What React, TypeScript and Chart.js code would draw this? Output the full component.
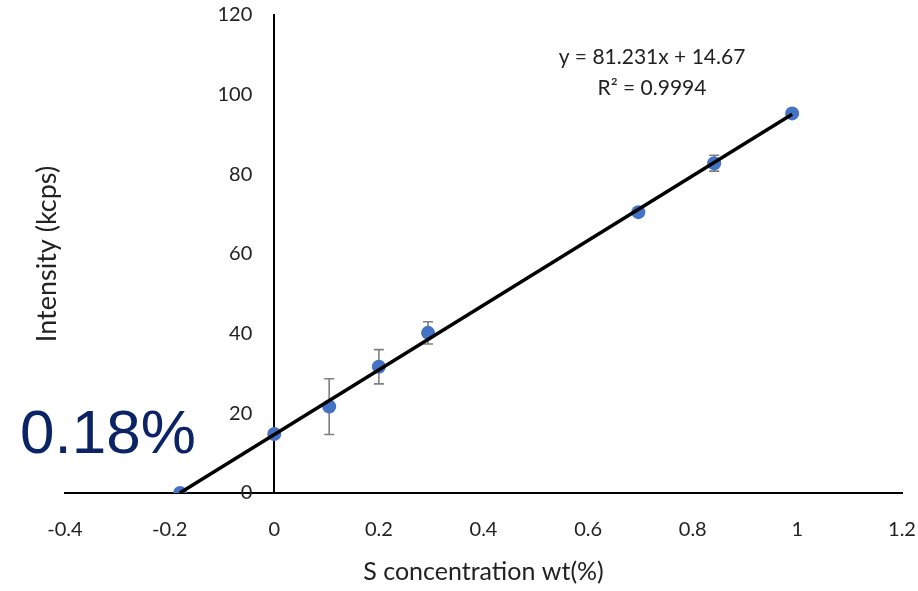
import React, { useEffect, useRef } from "react";
import { Chart, registerables } from "chart.js";

Chart.register(...registerables);

// Calibration standards: S concentration (wt %) vs measured intensity (kcps)
const concentration = [-0.18, 0, 0.105, 0.2, 0.294, 0.696, 0.841, 0.99];
const intensity = [0, 14.8, 21.7, 31.7, 40.2, 70.5, 82.8, 95.3];
const intensityError = [0, 0, 7, 4.3, 2.8, 1.0, 2.0, 0];

// Linear fit reported on the chart
const fitSlope = 81.231;
const fitIntercept = 14.67;
const fitRange = [-0.1806, 0.99];
const equationLines = ["y = 81.231x + 14.67", "R\u00b2 = 0.9994"];
const detectionLabel = "0.18%";

const xAxisTitle = "S concentration wt(%)";
const yAxisTitle = "Intensity (kcps)";
const xMin = -0.4;
const xMax = 1.2;
const xStep = 0.2;
const yMin = 0;
const yMax = 120;
const yStep = 20;

const FONT = "Lato, 'Open Sans', sans-serif";
const TEXT = "#222222";

const errorBarPlugin = {
  id: "errorBars",
  beforeDatasetsDraw(chart: any) {
    const { ctx, scales } = chart;
    const xs = scales.x;
    const ys = scales.y;
    ctx.save();
    ctx.strokeStyle = "#7f7f7f";
    ctx.lineWidth = 1.6;
    concentration.forEach((c, i) => {
      const e = intensityError[i];
      if (!e) return;
      const px = xs.getPixelForValue(c);
      const top = ys.getPixelForValue(intensity[i] + e);
      const bot = ys.getPixelForValue(intensity[i] - e);
      ctx.beginPath();
      ctx.moveTo(px, top);
      ctx.lineTo(px, bot);
      ctx.moveTo(px - 5, top);
      ctx.lineTo(px + 5, top);
      ctx.moveTo(px - 5, bot);
      ctx.lineTo(px + 5, bot);
      ctx.stroke();
    });
    ctx.restore();
  },
};

const labelPlugin = {
  id: "chartLabels",
  afterDraw(chart: any) {
    const { ctx, chartArea, scales } = chart;
    const xs = scales.x;
    const ys = scales.y;

    // y tick labels, set just left of the axis that crosses at x = 0
    ctx.save();
    ctx.fillStyle = TEXT;
    ctx.font = `20px ${FONT}`;
    ctx.textAlign = "right";
    ctx.textBaseline = "middle";
    const axisX = xs.getPixelForValue(0);
    ys.ticks.forEach((t: any) => {
      ctx.fillText(String(t.value), axisX - 22, ys.getPixelForValue(t.value));
    });
    ctx.restore();

    // y axis title, rotated, at the far left
    ctx.save();
    ctx.fillStyle = TEXT;
    ctx.font = `27px ${FONT}`;
    ctx.textAlign = "center";
    ctx.textBaseline = "middle";
    ctx.translate(47, (chartArea.top + chartArea.bottom) / 2);
    ctx.rotate(-Math.PI / 2);
    ctx.fillText(yAxisTitle, 0, 0);
    ctx.restore();

    // regression equation
    ctx.save();
    ctx.fillStyle = TEXT;
    ctx.font = `21px ${FONT}`;
    ctx.textAlign = "center";
    ctx.textBaseline = "middle";
    ctx.fillText(equationLines[0], 652, 57);
    ctx.fillText(equationLines[1], 652, 88);
    ctx.restore();

    // x-intercept value
    ctx.save();
    ctx.fillStyle = "#0b2466";
    ctx.font = "62px 'Liberation Sans', Arial, sans-serif";
    ctx.textAlign = "left";
    ctx.textBaseline = "alphabetic";
    ctx.fillText(detectionLabel, 20, 453);
    ctx.restore();
  },
};

export default function App() {
  const canvasRef = useRef<HTMLCanvasElement | null>(null);

  useEffect(() => {
    const canvas = canvasRef.current;
    if (!canvas) return;
    const points = concentration.map((c, i) => ({ x: c, y: intensity[i] }));
    const fitLine = fitRange.map((x) => ({ x, y: fitSlope * x + fitIntercept }));

    const chart = new Chart(canvas, {
      type: "scatter",
      data: {
        datasets: [
          {
            label: "fit",
            data: fitLine,
            showLine: true,
            borderColor: "#000000",
            borderWidth: 3.5,
            pointRadius: 0,
            order: 0,
          },
          {
            label: "standards",
            data: points,
            backgroundColor: "#4472c4",
            borderColor: "#4472c4",
            pointRadius: 7,
            borderWidth: 0,
            order: 1,
          },
        ],
      },
      options: {
        animation: false,
        responsive: true,
        maintainAspectRatio: false,
        layout: { autoPadding: false, padding: { left: 65, right: 16, top: 15, bottom: 4 } } as any,
        plugins: {
          legend: { display: false },
          tooltip: { enabled: false },
        },
        scales: {
          x: {
            type: "linear",
            position: "bottom",
            min: xMin,
            max: xMax,
            grid: { display: false, drawTicks: true, tickLength: 25 },
            border: { display: true, color: "#000000", width: 2 },
            ticks: {
              stepSize: xStep,
              padding: 0,
              maxRotation: 0,
              color: TEXT,
              font: { family: FONT, size: 20 },
              callback: (v: any) => String(Math.round(Number(v) * 10) / 10),
            },
            title: {
              display: true,
              text: xAxisTitle,
              color: TEXT,
              font: { family: FONT, size: 25 },
              padding: { top: 15, bottom: 0 },
            },
          },
          y: {
            type: "linear",
            position: { x: 0 } as any,
            min: yMin,
            max: yMax,
            grid: { display: false, drawTicks: false },
            border: { display: true, color: "#000000", width: 2 },
            ticks: {
              stepSize: yStep,
              display: false,
            },
          },
        },
      },
      plugins: [errorBarPlugin, labelPlugin],
    });
    return () => chart.destroy();
  }, []);

  return (
    <div style={{ position: "fixed", left: 0, top: 0, width: 918, height: 591, background: "#ffffff" }}>
      <canvas ref={canvasRef} />
    </div>
  );
}
